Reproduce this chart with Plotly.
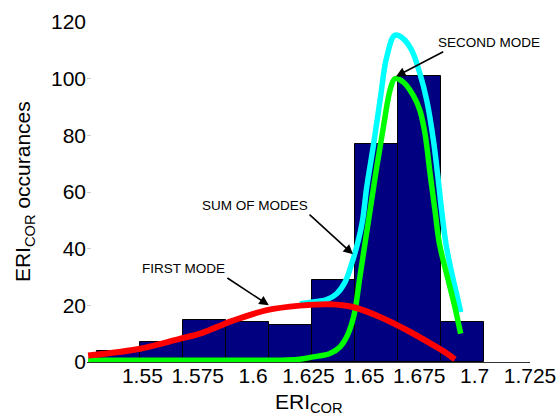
import plotly.graph_objects as go

# Histogram
bin_edges = [1.5293, 1.5488, 1.5682, 1.5877, 1.6071, 1.6265, 1.6460, 1.6654, 1.6849, 1.7043]
counts = [4, 7, 15, 14, 13, 29, 77, 101, 14]

# First mode (red)
first_x = [1.5255, 1.5490, 1.5660, 1.5760, 1.5835, 1.5909, 1.6062, 1.6211, 1.6347, 1.6451,
           1.6573, 1.6695, 1.6799, 1.6875, 1.6911]
first_y = [2.3, 4.7, 8.0, 10.0, 12.3, 14.6, 18.3, 19.9, 20.4, 19.4,
           15.9, 11.2, 6.6, 3.0, 0.9]

# Second mode (green)
second_x = [1.5255, 1.5800, 1.6200, 1.6272, 1.6347, 1.6392, 1.6422, 1.6445, 1.6460, 1.6482,
            1.6505, 1.6528, 1.6558, 1.6588, 1.6618, 1.6640, 1.6678, 1.6723, 1.6753, 1.6776,
            1.6799, 1.6821, 1.6841, 1.6881, 1.6911, 1.6937]
second_y = [0.6, 0.6, 0.9, 1.8, 3.0, 5.3, 8.8, 13.5, 18.2, 30.0,
            41.8, 53.5, 68.8, 82.9, 95.9, 100.0, 98.8, 94.1, 88.8, 80.6,
            66.5, 53.5, 41.8, 28.8, 19.4, 10.0]

# Sum of modes (cyan)
sum_x = [1.6211, 1.6272, 1.6332, 1.6377, 1.6415, 1.6445, 1.6475, 1.6494, 1.6513, 1.6542,
         1.6573, 1.6603, 1.6640, 1.6678, 1.6716, 1.6753, 1.6784, 1.6814, 1.6836, 1.6851,
         1.6872, 1.6904, 1.6922, 1.6937]
sum_y = [20.6, 21.2, 22.0, 24.1, 28.2, 34.7, 42.9, 50.0, 61.7, 75.9,
         92.3, 107.6, 115.3, 114.1, 110.0, 101.8, 92.3, 78.2, 64.1, 53.5,
         41.0, 28.8, 22.9, 17.6]

x_ticks = [1.55, 1.575, 1.6, 1.625, 1.65, 1.675, 1.7, 1.725]
x_ticklabels = ["1.55", "1.575", "1.6", "1.625", "1.65", "1.675", "1.7", "1.725"]
y_ticks = [0, 20, 40, 60, 80, 100, 120]

centers = [(a + b) / 2 for a, b in zip(bin_edges[:-1], bin_edges[1:])]
widths = [b - a for a, b in zip(bin_edges[:-1], bin_edges[1:])]

FONT = "Liberation Sans, Arial, sans-serif"

fig = go.Figure()
fig.add_trace(go.Bar(x=centers, y=counts, width=widths,
                     marker=dict(color="#000080", line=dict(color="black", width=1)),
                     showlegend=False))
fig.add_trace(go.Scatter(x=sum_x, y=sum_y, mode="lines", line_shape="spline",
                         line=dict(color="#00FFFF", width=5.5), showlegend=False))
fig.add_trace(go.Scatter(x=second_x, y=second_y, mode="lines", line_shape="spline",
                         line=dict(color="#00FF00", width=5.5), showlegend=False))
fig.add_trace(go.Scatter(x=first_x, y=first_y, mode="lines", line_shape="spline",
                         line=dict(color="#FF0000", width=6), showlegend=False))

ann_font = dict(family=FONT, size=13.5, color="black")
title_font = dict(family=FONT, size=21, color="black")
annotations = [
    dict(x=1.7063, y=112.6, text="SECOND MODE", showarrow=False, font=ann_font),
    dict(x=1.6008, y=55.3, text="SUM OF MODES", showarrow=False, font=ann_font),
    dict(x=1.5685, y=33.1, text="FIRST MODE", showarrow=False, font=ann_font),
    dict(x=1.6645, y=100.8, ax=1.6865, ay=109.8, axref="x", ayref="y", text="",
         showarrow=True, arrowhead=2, arrowsize=1.2, arrowwidth=1.6, arrowcolor="black"),
    dict(x=1.6451, y=38.0, ax=1.6248, ay=52.5, axref="x", ayref="y", text="",
         showarrow=True, arrowhead=2, arrowsize=1.2, arrowwidth=1.6, arrowcolor="black"),
    dict(x=1.6071, y=20.0, ax=1.5877, ay=30.0, axref="x", ayref="y", text="",
         showarrow=True, arrowhead=2, arrowsize=1.2, arrowwidth=1.6, arrowcolor="black"),
    # axis titles
    dict(xref="paper", yref="paper", x=0.5, y=-0.075, xanchor="center", yanchor="top",
         text="ERI<sub>COR</sub>", showarrow=False, font=title_font),
    dict(xref="paper", yref="paper", x=-0.142, y=0.5, xanchor="center", yanchor="middle",
         textangle=-90, text="ERI<sub>COR</sub> occurances", showarrow=False, font=title_font),
]

fig.update_layout(
    width=560, height=417,
    margin=dict(l=87, r=30, t=22, b=55, autoexpand=False),
    paper_bgcolor="white", plot_bgcolor="white",
    bargap=0,
    font=dict(family=FONT, size=21, color="black"),
    annotations=annotations,
    xaxis=dict(range=[1.525, 1.725], tickvals=x_ticks, ticktext=x_ticklabels,
               showgrid=False, zeroline=False, showline=True, linecolor="#333333",
               linewidth=1, ticks="", automargin=False, ticklabelstandoff=-5),
    yaxis=dict(range=[0, 120], tickvals=y_ticks, showgrid=False, zeroline=False,
               showline=False, ticks="inside", ticklen=4, tickcolor="#cccccc",
               automargin=False),
)

fig.write_html("out.html")
